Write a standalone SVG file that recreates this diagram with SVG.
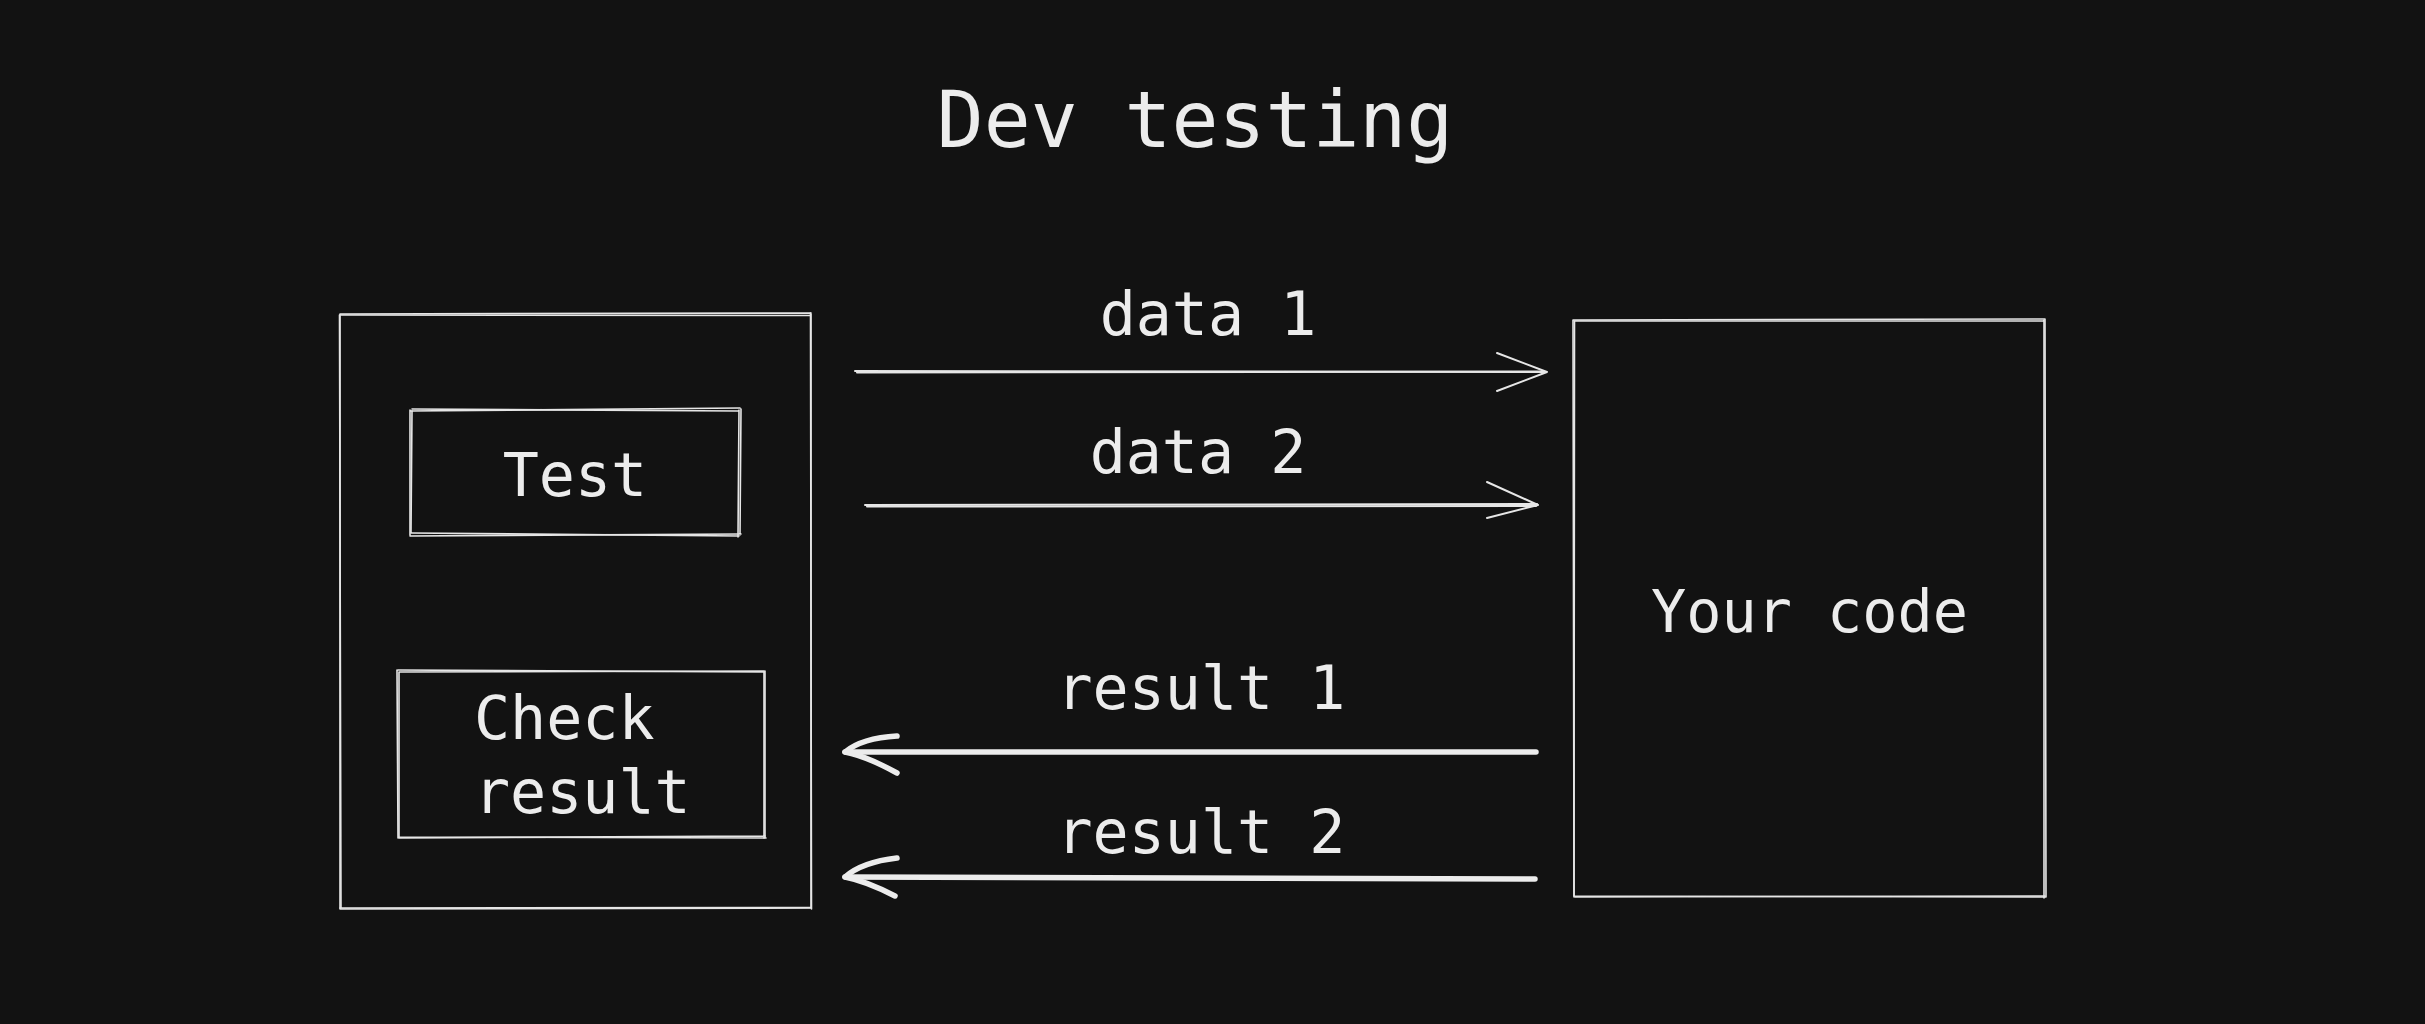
<svg xmlns="http://www.w3.org/2000/svg" width="2425" height="1024" viewBox="0 0 2425 1024">
<style>
.bg{fill:#121212}
.sk{fill:none;stroke:#e6e6e6;stroke-width:1.6;stroke-linecap:round;stroke-linejoin:round}
.thin{fill:none;stroke:#e6e6e6;stroke-width:2;stroke-linecap:round;stroke-linejoin:round}
.thick{fill:none;stroke:#ececec;stroke-width:5.5;stroke-linecap:round;stroke-linejoin:round}
text{font-family:"DejaVu Sans Mono","Liberation Mono",monospace;fill:#ececec;font-size:60px}
.title{font-size:78px}
</style>
<rect class="bg" x="0" y="0" width="2425" height="1024"/>
<g id="title"><text class="title" x="1195" y="147" text-anchor="middle">Dev testing</text></g>
<g id="test-suite">
<path class="sk" d="M340 314 L811 313 M811 314 L811 908 M811 908 L341 909 M340 909 L340 314"/>
<path class="sk" d="M341 315 L810 315.5 M810.5 313 L811.5 909 M811 907.5 L340 908 M341 908 L339.5 315"/>
</g>
<g id="test">
<path class="sk" d="M410 411 L740 408 M741 409 L740 535 M741 534 L410 536 M410 535 L410 410"/>
<path class="sk" d="M412 409 L738 411 M739 410 L738 537 M739 536 L412 533 M411 533 L412 411"/>
<text x="575" y="496" text-anchor="middle">Test</text>
</g>
<g id="check-result">
<path class="sk" d="M398 670 L765 672 M765 671 L765 838 M766 838 L398 837 M398 838 L397 670"/>
<path class="sk" d="M399 672 L764 671 M764 672 L764 838 M765 836 L399 838 M399 837 L399 672"/>
<text x="474" y="739">Check</text>
<text x="474" y="813">result</text>
</g>
<g id="your-code">
<path class="sk" d="M1573 320 L2045 319 M2045 319 L2046 897 M2046 897 L1574 896 M1574 897 L1573 320"/>
<path class="sk" d="M1575 321 L2043 321 M2044 320 L2044 898 M2045 896 L1575 897 M1574 896 L1574.5 321"/>
<text x="1809.5" y="632" text-anchor="middle" style="font-size:58.5px">Your code</text>
</g>
<g id="connectors">
<g id="data1">
<path class="thin" d="M855 371 L1545 372"/>
<path class="thin" d="M857 372.5 L1543 371.5"/>
<path class="thin" d="M1497 353 L1547 372 L1497 391"/>
<text x="1208" y="335" text-anchor="middle">data 1</text>
</g>
<g id="data2">
<path class="thin" d="M865 505 L1537 504"/>
<path class="thin" d="M867 506.5 L1536 506"/>
<path class="thin" d="M1487 482 L1538 505 L1487 518"/>
<text x="1198" y="473" text-anchor="middle">data 2</text>
</g>
<g id="result1">
<path class="thick" d="M1536 752 L845 752"/>
<path class="thick" d="M897 736 Q862 738 845 752 Q866 756 897 773"/>
<text x="1201" y="709" text-anchor="middle">result 1</text>
</g>
<g id="result2">
<path class="thick" d="M1535 879 L845 877"/>
<path class="thick" d="M897 858 Q862 862 845 877 Q866 881 895 896"/>
<text x="1201" y="853" text-anchor="middle">result 2</text>
</g>
</g>
</svg>
